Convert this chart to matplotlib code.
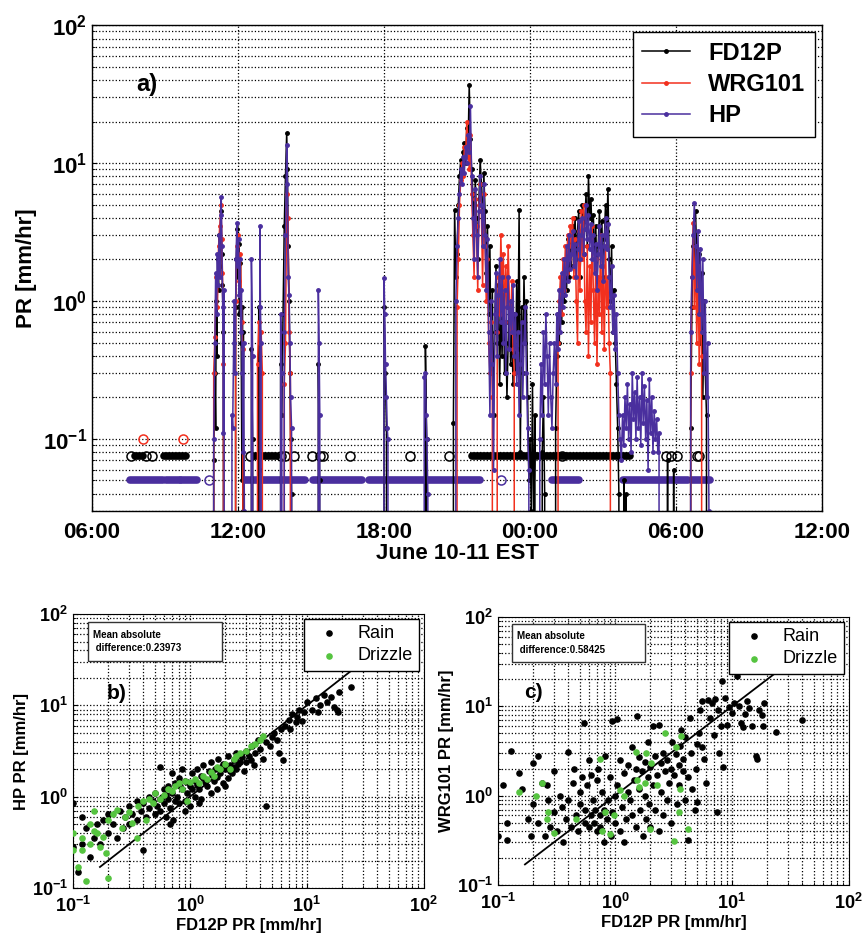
import matplotlib
matplotlib.use("Agg")
import matplotlib.pyplot as plt
from matplotlib.patches import Rectangle
import numpy as np

plt.rcParams['font.family'] = ['Liberation Sans', 'DejaVu Sans']
plt.rcParams['font.weight'] = 'bold'
plt.rcParams['mathtext.fontset'] = 'custom'
plt.rcParams['mathtext.rm'] = 'Liberation Sans:bold'
plt.rcParams['mathtext.bf'] = 'Liberation Sans:bold'
plt.rcParams['mathtext.it'] = 'Liberation Sans:bold'
plt.rcParams['mathtext.default'] = 'bf'

# ---- panel a: time series (hours from 00:00 June 10, value in mm/hr; 0 = no rain) ----
fd12p = [(10.95,0),(11.0,0.07),(11.05,0.3),(11.08,0.12),(11.1,1.0),(11.13,0.4),(11.16,2.0),(11.2,1.2),(11.23,3.0),(11.26,1.8),(11.3,4.5),(11.33,2.2),(11.36,1.3),(11.4,0.6),(11.45,0),
         (11.85,0),(11.9,0.9),(11.93,2.0),(11.96,3.3),(12.0,1.5),(12.03,2.6),(12.06,0.8),(12.1,1.9),(12.13,0.5),(12.16,0.05),(12.18,0.9),(12.2,0.03),(12.22,0.6),(12.25,0),
         (12.5,0),(12.55,0.45),(12.6,0.1),(12.65,0),(12.8,0),(12.85,0.9),(12.9,0.06),(12.95,0),
         (13.7,0),(13.75,0.35),(13.8,0.15),(13.85,0.8),(13.9,3.5),(13.95,8.0),(14.0,16.6),(14.03,9.0),(14.06,2.5),(14.1,1.0),(14.13,0.3),(14.16,0.1),(14.2,0.04),(14.25,0),
         (15.25,0),(15.3,0.35),(15.35,0.05),(15.4,0),
         (17.95,0),(18.0,0.9),(18.05,0.3),(18.1,0.12),(18.15,0),
         (19.6,0),(19.7,0.47),(19.75,0.1),(19.8,0),
         (20.8,0),(20.85,0.13),(20.9,4.6),(20.95,1.5),
         (21.0,2.2),(21.05,5.0),(21.1,8.0),(21.15,10.5),(21.2,9.0),(21.25,12.0),(21.3,14.0),(21.35,10.0),(21.4,18.0),(21.45,12.5),(21.5,37.0),(21.55,15.0),(21.6,9.0),(21.65,6.0),(21.7,3.5),(21.75,7.5),(21.8,4.0),(21.85,2.0),(21.9,5.5),(21.95,10.5),(22.0,7.0),(22.05,3.0),(22.1,8.5),(22.15,4.5),(22.2,1.6),(22.25,3.5),(22.3,0.8),(22.35,2.5),(22.4,0.3),(22.45,1.2),(22.5,0.15),(22.55,0.6),(22.6,1.8),(22.65,0.5),(22.7,1.3),(22.75,0.25),(22.8,0.9),(22.85,0.4),(22.9,1.5),(22.95,0.3),(23.0,0.7),(23.05,0.2),(23.1,0.5),(23.15,1.0),(23.2,0.35),(23.25,0.6),(23.3,0.25),(23.35,0.8),(23.4,0.3),(23.45,1.4),(23.5,0.45),(23.55,4.6),(23.6,0.08),(23.65,0.9),(23.7,0.3),(23.75,1.5),(23.8,0.5),(23.85,1.0),(23.9,0.2),(23.95,0.05),(24.0,0.1),(24.05,0.03),(24.1,0.25),(24.15,0.02),(24.2,0.15),(24.3,0),
         (24.45,0),(24.5,0.08),(24.55,0.2),(24.6,0.04),(24.65,0),
         (25.0,0),(25.05,0.12),(25.1,0.4),(25.15,0.8),(25.2,0.5),(25.25,1.2),(25.3,0.7),(25.35,1.6),(25.4,1.0),(25.45,2.0),(25.5,1.2),(25.55,2.8),(25.6,1.5),(25.65,3.0),(25.7,1.8),(25.75,3.5),(25.8,2.5),(25.85,4.0),(25.9,2.0),(25.95,3.2),(26.0,4.5),(26.05,1.5),(26.1,3.0),(26.15,5.0),(26.2,2.2),(26.25,3.8),(26.3,6.0),(26.35,2.5),(26.4,8.0),(26.45,4.0),(26.5,5.5),(26.55,3.0),(26.6,4.2),(26.65,2.0),(26.7,3.5),(26.75,1.4),(26.8,2.5),(26.85,4.5),(26.9,2.2),(26.95,3.8),(27.0,1.5),(27.05,2.8),(27.1,5.0),(27.15,3.2),(27.2,6.5),(27.25,2.0),(27.3,1.0),(27.35,2.5),(27.4,0.6),(27.45,1.2),(27.5,0.5),(27.55,0.25),(27.6,0.12),(27.65,0.04),(27.7,0),
         (27.8,0),(27.85,0.05),(27.9,0),(27.95,0.04),(28.0,0),
         (29.6,0),(29.65,0.07),(29.7,0),(29.85,0),(29.9,0.06),(29.95,0),
         (30.55,0),(30.6,0.12),(30.65,0.9),(30.7,2.5),(30.75,1.5),(30.8,4.5),(30.85,2.0),(30.9,0.8),(30.95,2.2),(31.0,0.5),(31.05,1.6),(31.1,0.2),(31.15,1.0),(31.2,0.3),(31.25,0.15),(31.3,0)]

wrg101 = [(10.95,0),(11.0,0.3),(11.05,0.55),(11.1,1.5),(11.15,0.9),(11.2,2.5),(11.25,3.5),(11.3,5.0),(11.33,2.8),(11.36,1.6),(11.4,0.35),(11.45,0),
          (11.85,0),(11.9,1.0),(11.95,2.5),(12.0,3.0),(12.05,1.4),(12.1,2.2),(12.15,0.7),(12.2,0.45),(12.25,0),
          (12.75,0),(12.8,0.35),(12.85,0.7),(12.9,0.5),(12.95,0.6),(13.0,0.3),(13.05,0),
          (13.85,0),(13.9,0.25),(13.95,0.5),(14.0,6.0),(14.05,4.0),(14.1,0.6),(14.15,0.3),(14.2,0),
          (20.95,0),(21.0,0.9),(21.05,2.0),(21.1,5.0),(21.15,7.5),(21.2,10.0),(21.25,8.0),(21.3,13.0),(21.35,11.0),(21.4,20.0),(21.45,14.0),(21.5,9.0),(21.55,16.0),(21.6,6.0),(21.65,3.0),(21.7,1.5),(21.75,5.5),(21.8,3.5),(21.85,1.2),(21.9,5.0),(21.95,7.0),(22.0,4.5),(22.05,1.3),(22.1,6.0),(22.15,2.5),(22.2,1.0),(22.25,2.0),(22.3,0.5),(22.35,0.3),(22.4,0.7),(22.45,0.2),(22.5,0),
          (22.6,0),(22.65,0.6),(22.7,1.5),(22.75,0.8),(22.8,3.0),(22.85,1.2),(22.9,2.2),(22.95,0.7),(23.0,1.8),(23.05,0.9),(23.1,2.5),(23.15,1.0),(23.2,0.6),(23.25,1.4),(23.3,0.45),(23.35,0.3),(23.4,0),
          (25.1,0),(25.15,0.5),(25.2,1.0),(25.25,1.5),(25.3,0.8),(25.35,2.0),(25.4,1.2),(25.45,2.5),(25.5,1.6),(25.55,3.0),(25.6,2.0),(25.65,3.5),(25.7,2.5),(25.75,4.0),(25.8,1.5),(25.85,2.8),(25.9,1.0),(25.95,0.5),(26.0,3.2),(26.05,1.2),(26.1,4.5),(26.15,2.0),(26.2,5.0),(26.25,1.0),(26.3,0.6),(26.35,2.5),(26.4,0.4),(26.45,1.8),(26.5,0.7),(26.55,3.5),(26.6,1.2),(26.65,0.5),(26.7,2.0),(26.75,0.35),(26.8,1.5),(26.85,0.8),(26.9,3.0),(26.95,0.6),(27.0,1.8),(27.05,0.45),(27.1,2.5),(27.15,0.9),(27.2,1.5),(27.25,0.5),(27.3,0.3),(27.35,0),
          (30.55,0),(30.6,0.3),(30.65,1.5),(30.7,3.7),(30.75,0.9),(30.8,2.5),(30.85,0.5),(30.9,1.8),(30.95,0.35),(31.0,1.2),(31.05,0.4),(31.1,0)]

hp = [(10.95,0),(11.0,0.1),(11.05,0.5),(11.08,1.6),(11.12,0.8),(11.15,2.2),(11.18,1.3),(11.22,3.0),(11.25,1.5),(11.28,4.2),(11.31,5.7),(11.34,2.5),(11.37,0.9),(11.4,0.11),(11.43,1.2),(11.45,0),
      (11.7,0),(11.75,0.15),(11.78,0.12),(11.82,0.5),(11.85,1.0),(11.88,0.3),(11.92,2.0),(11.95,3.7),(11.98,1.8),(12.02,2.8),(12.05,1.1),(12.08,2.0),(12.11,0.6),(12.14,1.2),(12.17,0.3),(12.2,0.08),(12.23,0.5),(12.26,0.03),(12.3,0),
      (12.5,0),(12.55,2.0),(12.6,0.4),(12.65,0),(12.85,0),(12.9,3.5),(12.92,0.9),(12.95,0.5),(12.98,0),
      (13.7,0),(13.75,0.8),(13.8,0.3),(13.85,0),(13.9,0.6),(13.95,3.0),(14.0,13.5),(14.03,7.0),(14.06,1.5),(14.1,1.1),(14.13,0.5),(14.16,0.2),(14.2,0.12),(14.25,0),
      (15.25,0),(15.3,1.2),(15.33,0.5),(15.36,0.15),(15.4,0),
      (17.95,0),(18.0,1.46),(18.03,0.8),(18.06,0.35),(18.1,0.2),(18.13,0.12),(18.16,0.1),(18.2,0),
      (19.6,0),(19.65,0.28),(19.7,0.3),(19.73,0.15),(19.76,0.1),(19.8,0.04),(19.85,0),
      (20.9,0),(20.95,1.0),(21.0,2.5),(21.05,4.0),(21.1,6.0),(21.15,9.0),(21.2,7.0),(21.25,11.0),(21.3,8.5),(21.35,13.0),(21.4,10.0),(21.45,16.0),(21.5,12.0),(21.55,26.0),(21.6,8.0),(21.65,4.0),(21.7,2.0),(21.75,6.5),(21.8,3.0),(21.85,1.5),(21.9,4.5),(21.95,8.0),(22.0,5.0),(22.05,2.5),(22.1,7.0),(22.15,3.0),(22.2,1.2),(22.25,2.8),(22.3,0.6),(22.35,0.15),(22.4,1.0),(22.45,0.35),(22.5,0.06),(22.55,0.8),(22.6,1.6),(22.65,0.4),(22.7,1.1),(22.75,2.0),(22.8,0.7),(22.85,1.5),(22.9,0.5),(22.95,1.2),(23.0,0.3),(23.05,0.9),(23.1,1.5),(23.15,0.45),(23.2,1.0),(23.25,0.6),(23.3,1.3),(23.35,0.4),(23.4,0.8),(23.45,0.25),(23.5,0.6),(23.55,0.15),(23.6,0.35),(23.65,0.7),(23.7,0.2),(23.75,0.5),(23.8,0.9),(23.85,0.3),(23.9,0.12),(23.95,0.06),(24.0,0),
      (24.35,0),(24.4,0.1),(24.45,0.35),(24.5,0.15),(24.55,0.6),(24.6,0.25),(24.65,0.8),(24.7,0.4),(24.75,0.15),(24.8,0.5),(24.85,0.2),(24.9,0.12),(24.95,0.3),(25.0,0.5),(25.05,0.25),(25.1,0.8),(25.15,0.45),(25.2,1.2),(25.25,0.6),(25.3,1.6),(25.35,0.9),(25.4,2.0),(25.45,1.1),(25.5,2.5),(25.55,1.4),(25.6,3.0),(25.65,1.7),(25.7,2.2),(25.75,3.2),(25.8,1.8),(25.85,2.6),(25.9,1.5),(25.95,2.4),(26.0,3.8),(26.05,2.0),(26.1,3.0),(26.15,4.0),(26.2,2.2),(26.25,3.3),(26.3,5.0),(26.35,2.8),(26.4,4.2),(26.45,2.4),(26.5,3.6),(26.55,2.0),(26.6,3.0),(26.65,1.6),(26.7,2.6),(26.75,1.2),(26.8,2.2),(26.85,3.5),(26.9,1.8),(26.95,3.0),(27.0,1.4),(27.05,2.5),(27.1,4.0),(27.15,2.4),(27.2,3.6),(27.25,1.5),(27.3,0.9),(27.35,1.8),(27.4,0.6),(27.45,1.1),(27.5,0.45),(27.55,0.8),(27.6,0.3),(27.65,0.15),(27.7,0.1),
      (27.75,0.07),(27.8,0.15),(27.85,0.09),(27.9,0.2),(27.95,0.12),(28.0,0.25),(28.05,0.1),(28.1,0.18),(28.15,0.08),(28.2,0.3),(28.25,0.14),(28.3,0.22),(28.35,0.1),(28.4,0.28),(28.45,0.12),(28.5,0.2),(28.55,0.09),(28.6,0.3),(28.65,0.13),(28.7,0.24),(28.75,0.1),(28.8,0.19),(28.85,0.06),(28.9,0.27),(28.95,0.11),(29.0,0.2),(29.05,0.08),(29.1,0.16),(29.15,0.1),(29.2,0.14),(29.25,0.08),(29.3,0.11),(29.35,0),
      (30.55,0),(30.6,0.6),(30.65,1.5),(30.7,3.0),(30.75,5.1),(30.8,2.5),(30.85,1.2),(30.9,3.2),(30.95,0.8),(31.0,2.4),(31.05,0.6),(31.1,2.0),(31.15,0.3),(31.2,1.0),(31.25,0.2),(31.3,0.5),(31.35,0.03),(31.4,0)]

# no-rain flags (drawn as rows of open circles)
fd_flag_level, hp_flag_level, wrg_flag_level = 0.075, 0.05, 0.1
fd_flag_spans = [(7.75, 8.1), (8.95, 9.85), (12.7, 13.6), (21.6, 28.1)]
fd_flag_single = [7.6, 8.2, 8.45, 12.5, 13.75, 13.95, 14.3, 15.05, 15.35, 15.5, 16.6, 19.05, 20.65, 25.3, 29.6, 29.8, 30.05, 30.85, 30.95]
hp_flag_spans = [(7.55, 8.9), (9.05, 9.6), (9.65, 10.3), (12.3, 14.75), (15.1, 17.1), (17.4, 21.95), (24.9, 26.0), (27.8, 30.5), (30.65, 31.4)]
hp_flag_single = [10.8, 22.8]
wrg_flag_single = [8.1, 9.75]

time_ticks = [6, 12, 18, 24, 30, 36]
time_labels = ['06:00', '12:00', '18:00', '00:00', '06:00', '12:00']

# ---- panel b/c: scatter (FD12P, other) ----
b_rain = [(0.1,0.28),(0.1,0.85),(0.11,0.15),(0.12,0.6),(0.12,0.3),(0.13,0.45),(0.14,0.22),(0.15,0.35),(0.16,0.5),(0.17,0.3),(0.18,0.55),(0.2,0.4),(0.2,0.65),(0.22,0.5),(0.24,0.35),(0.25,0.7),(0.27,0.45),(0.28,0.6),(0.3,0.5),(0.3,0.8),(0.32,0.65),(0.35,0.9),(0.35,0.55),(0.38,0.7),(0.4,0.26),(0.4,0.85),(0.42,0.6),(0.45,0.75),(0.45,1.0),(0.48,0.9),(0.5,0.65),(0.5,1.1),(0.52,0.8),(0.55,2.1),(0.55,0.7),(0.58,1.0),(0.6,0.85),(0.6,1.2),(0.62,0.6),(0.65,0.95),(0.65,1.3),(0.68,0.75),(0.7,1.1),(0.7,1.8),(0.72,0.55),(0.75,1.4),(0.78,1.0),(0.8,0.85),(0.8,1.6),(0.85,1.2),(0.85,2.0),(0.9,0.9),(0.9,1.5),(0.95,1.1),(1.0,1.3),(1.0,0.8),(1.05,1.8),(1.1,1.0),(1.1,1.5),(1.15,2.0),(1.2,1.2),(1.25,0.95),(1.3,1.6),(1.3,2.2),(1.4,1.3),(1.45,1.9),(1.5,1.1),(1.5,2.4),(1.6,1.5),(1.65,2.0),(1.7,1.2),(1.75,2.6),(1.8,1.8),(1.9,1.4),(1.9,2.3),(2.0,2.0),(2.1,1.6),(2.1,2.8),(2.2,2.2),(2.3,1.8),(2.4,2.5),(2.5,3.0),(2.5,2.0),(2.6,2.3),(2.8,2.7),(2.9,1.9),(3.0,3.2),(3.0,2.4),(3.2,2.8),(3.4,3.6),(3.5,2.2),(3.6,3.0),(3.8,4.2),(4.0,3.3),(4.2,2.6),(4.5,0.8),(4.5,4.0),(4.8,3.6),(5.0,4.5),(5.2,5.0),(5.5,4.2),(5.8,3.0),(6.0,5.5),(6.3,2.5),(6.5,6.0),(7.0,7.0),(7.2,5.5),(7.5,8.0),(8.0,6.5),(8.2,7.5),(8.5,9.0),(9.0,6.8),(9.5,8.5),(10,11),(11,9),(12,12),(12.5,8.5),(13,10),(14,13),(15,11),(16,12.5),(17,9.5),(18,9),(18.5,8.5),(19,14),(24,16),
          (0.55,0.95),(0.62,1.05),(0.75,0.9),(0.82,1.3),(0.95,1.45),(1.05,1.2),(1.15,1.35),(1.25,1.7),(1.35,1.45),(1.55,1.75),(1.7,1.65),(1.85,2.1),(2.2,1.9),(2.4,2.1),(2.7,2.4),(3.3,2.5),(2.0,1.3),(1.2,0.85),(0.9,0.7),(0.68,0.5)]
b_drizzle = [(0.1,0.4),(0.1,0.26),(0.11,0.17),(0.12,0.35),(0.12,0.26),(0.13,0.12),(0.14,0.5),(0.14,0.3),(0.15,0.7),(0.15,0.42),(0.16,0.4),(0.17,0.28),(0.18,0.36),(0.19,0.24),(0.2,0.13),(0.2,0.55),(0.22,0.65),(0.24,0.72),(0.26,0.45),(0.28,0.6),(0.3,0.68),(0.32,0.52),(0.35,0.35),(0.36,0.8),(0.4,0.9),(0.42,0.55),(0.45,0.95),(0.48,0.85),(0.5,1.1),(0.55,0.95),(0.6,1.05),(0.65,1.2),(0.7,1.15),(0.75,1.3),(0.8,1.4),(0.85,1.2),(0.9,1.5),(0.95,0.9),(1.0,1.45),(1.1,1.55),(1.2,1.4),(1.3,1.7),(1.4,1.55),(1.5,1.85),(1.6,1.7),(1.7,2.1),(1.8,2.0),(2.0,2.3),(2.2,2.0),(2.4,2.6),(2.5,2.8),(2.7,3.0),(3.0,3.2),(3.3,3.6),(3.6,3.8),(4.0,4.2),(4.2,4.6)]

c_rain = [(0.1,0.35),(0.11,1.3),(0.12,0.5),(0.12,0.32),(0.13,3.2),(0.15,1.8),(0.16,1.2),(0.18,0.55),(0.19,0.35),(0.2,2.3),(0.2,0.8),(0.22,2.8),(0.22,0.5),(0.24,1.4),(0.25,0.35),(0.26,1.3),(0.27,0.9),(0.28,0.45),(0.3,0.65),(0.3,1.9),(0.32,0.4),(0.34,1.0),(0.35,0.75),(0.36,0.3),(0.38,0.55),(0.4,3.1),(0.4,0.9),(0.42,0.45),(0.44,1.4),(0.45,2.0),(0.46,0.6),(0.48,0.4),(0.5,1.1),(0.5,0.8),(0.52,1.6),(0.54,6.5),(0.55,0.5),(0.56,0.7),(0.58,1.3),(0.6,0.45),(0.6,2.5),(0.62,0.6),(0.63,1.7),(0.65,0.9),(0.66,0.5),(0.68,0.7),(0.7,1.5),(0.7,0.4),(0.72,2.0),(0.75,0.6),(0.75,0.45),(0.78,1.1),(0.8,0.3),(0.8,0.7),(0.82,2.8),(0.85,0.55),(0.88,0.9),(0.9,1.6),(0.92,0.35),(0.95,0.65),(0.95,6.8),(1.0,1.0),(1.0,0.5),(1.05,7.2),(1.05,1.3),(1.1,0.4),(1.1,2.5),(1.15,0.75),(1.2,1.8),(1.2,0.3),(1.25,0.55),(1.3,1.1),(1.3,2.2),(1.35,0.9),(1.4,3.5),(1.4,0.6),(1.45,1.5),(1.5,2.0),(1.5,0.45),(1.55,7.8),(1.6,1.2),(1.6,2.7),(1.65,0.7),(1.7,1.9),(1.75,0.35),(1.8,2.4),(1.8,1.0),(1.85,0.55),(1.9,4.0),(1.9,1.6),(1.95,0.8),(2.0,2.1),(2.0,0.45),(2.1,1.3),(2.1,6.0),(2.2,2.8),(2.2,0.7),(2.3,1.7),(2.4,6.2),(2.4,0.4),(2.5,2.3),(2.5,1.1),(2.6,3.0),(2.6,0.6),(2.7,1.9),(2.8,2.5),(2.8,0.9),(2.9,1.4),(3.0,2.0),(3.0,0.5),(3.1,4.0),(3.2,1.7),(3.3,2.9),(3.4,0.8),(3.5,2.2),(3.5,1.3),(3.6,3.6),(3.7,5.5),(3.8,1.9),(3.8,2.6),(4.0,0.9),(4.0,4.5),(4.2,1.6),(4.2,0.32),(4.4,7.5),(4.5,3.0),(4.6,1.2),(4.8,0.7),(4.9,2.0),(5.0,3.8),(5.0,0.85),(5.2,5.0),(5.3,9.0),(5.5,11.5),(5.6,3.5),(5.8,2.6),(6.0,1.4),(6.2,11.8),(6.5,7.5),(6.8,11.0),(7.0,4.8),(7.2,12.0),(7.5,0.65),(7.6,9.0),(7.8,3.0),(8.0,6.0),(8.2,19),(8.4,2.1),(8.8,12.5),(9.0,6.2),(9.5,9.8),(10.0,8.5),(10.5,11.0),(11.0,22),(11.5,10.0),(12.0,6.5),(12.5,5.8),(13.0,8.3),(13.5,11.5),(14,9.5),(15,6.0),(16,2.8),(16.5,2.6),(17,9.0),(18,8.0),(18.5,6.0),(19,11),(24,5.2),(40,7.0)]
c_drizzle = [(0.15,1.1),(0.21,1.0),(0.24,1.4),(0.26,0.55),(0.27,0.65),(0.3,0.38),(0.46,0.55),(0.75,2.6),(0.77,0.4),(0.82,0.65),(0.9,0.37),(0.98,0.6),(1.1,1.15),(1.2,1.0),(1.5,3.1),(1.55,1.5),(1.6,1.25),(1.8,1.4),(1.85,3.0),(2.0,0.42),(2.05,2.3),(2.3,1.3),(2.7,5.0),(3.2,0.31),(3.3,3.5),(3.5,0.65),(3.6,1.2),(3.7,4.7),(4.2,0.42)]

one_to_one = [0.17, 25]
mad_b, mad_c = 0.23973, 0.58425

BLACK, RED, PURPLE, GREEN = '#000000', '#f2301e', '#4a2f9e', '#55c43f'


def grid_style(ax, minor_x=True):
    ax.grid(True, which='major', axis='both', ls=':', color='black', lw=0.9)
    ax.grid(True, which='minor', axis='y', ls=':', color='black', lw=0.9)
    if minor_x:
        ax.grid(True, which='minor', axis='x', ls=':', color='black', lw=0.9)
    ax.set_axisbelow(True)


fig = plt.figure(figsize=(8.64, 9.38), dpi=100)

# ---------------- panel a ----------------
ax = fig.add_axes([0.1065, 0.4552, 0.845, 0.518])
ax.set_yscale('log')
for data, col, name in [(fd12p, BLACK, 'FD12P'), (wrg101, RED, 'WRG101'), (hp, PURPLE, 'HP')]:
    t = np.array([p[0] for p in data])
    v = np.array([p[1] for p in data])
    ax.plot(t, v, '-', marker='.', color=col, lw=1.1, ms=5, label=name)

for a, b in fd_flag_spans:
    ax.plot([a, b], [fd_flag_level] * 2, color=BLACK, lw=5.5, solid_capstyle='round', zorder=1.8)
ax.plot(fd_flag_single, [fd_flag_level] * len(fd_flag_single), 'o', mfc='none', mec=BLACK, ms=6.5, mew=1.1, zorder=1.8)
for a, b in hp_flag_spans:
    ax.plot([a, b], [hp_flag_level] * 2, color=PURPLE, lw=5.5, solid_capstyle='round', zorder=1.8)
ax.plot(hp_flag_single, [hp_flag_level] * len(hp_flag_single), 'o', mfc='none', mec=PURPLE, ms=6.5, mew=1.1, zorder=1.8)
ax.plot(wrg_flag_single, [wrg_flag_level] * len(wrg_flag_single), 'o', mfc='none', mec=RED, ms=6.5, mew=1.1, zorder=1.8)

ax.set_xlim(6, 36)
ax.set_ylim(0.03, 100)
ax.set_xticks(time_ticks)
ax.set_xticklabels(time_labels)
ax.tick_params(labelsize=16, direction='in', which='both')
ax.tick_params(axis='x', pad=8)
grid_style(ax, minor_x=False)
ax.set_xlabel('June 10-11 EST', fontsize=16, fontweight='bold', labelpad=0)
ax.set_ylabel('PR [mm/hr]', fontsize=16, fontweight='bold')
ax.text(0.075, 0.877, 'a)', transform=ax.transAxes, fontsize=17, fontweight='bold', ha='center', va='center')
leg = ax.legend(loc='upper right', fontsize=17, handlelength=2.0, fancybox=False, edgecolor='black',
                framealpha=1, borderaxespad=0.3, labelspacing=0.35, borderpad=0.4)
leg.get_frame().set_linewidth(1.0)
for s in ax.spines.values():
    s.set_linewidth(1.0)


# ---------------- panels b, c ----------------
def scatter_panel(pos, rain, drizzle, ylabel, letter, mad, box, letter_xy):
    ax = fig.add_axes(pos)
    ax.set_xscale('log')
    ax.set_yscale('log')
    ax.scatter([p[0] for p in rain], [p[1] for p in rain], s=14, color=BLACK, label='Rain', zorder=3)
    ax.scatter([p[0] for p in drizzle], [p[1] for p in drizzle], s=14, color=GREEN, label='Drizzle', zorder=3)
    ax.plot(one_to_one, one_to_one, color=BLACK, lw=1.3, zorder=2.5)
    ax.set_xlim(0.1, 100)
    ax.set_ylim(0.1, 100)
    grid_style(ax)
    ax.tick_params(labelsize=13, direction='in', which='both')
    ax.tick_params(axis='x', pad=6)
    ax.set_xlabel('FD12P PR [mm/hr]', fontsize=12, fontweight='bold', labelpad=1)
    ax.set_ylabel(ylabel, fontsize=12, fontweight='bold', labelpad=2)
    ax.add_patch(Rectangle((box[0], box[1]), box[2], box[3], transform=ax.transAxes,
                           fc='white', ec='#333333', lw=1.0, zorder=4))
    ax.text(box[0] + 0.015, box[1] + box[3] / 2, 'Mean absolute\n difference:%s' % mad, transform=ax.transAxes,
            fontsize=7, fontweight='bold', va='center', ha='left', zorder=5, linespacing=1.4)
    ax.text(letter_xy[0], letter_xy[1], letter, transform=ax.transAxes, fontsize=15, fontweight='bold',
            ha='center', va='center')
    leg = ax.legend(loc='upper right', fontsize=13, fancybox=False, edgecolor='black', framealpha=1,
                    borderaxespad=0.25, handletextpad=0.6, borderpad=0.35, labelspacing=0.3, markerscale=1.0)
    leg.get_frame().set_linewidth(1.0)
    for t in leg.get_texts():
        t.set_fontweight('normal')
    return ax


scatter_panel([0.0845, 0.0533, 0.406, 0.292], b_rain, b_drizzle, 'HP PR [mm/hr]', 'b)', mad_b,
              (0.043, 0.83, 0.381, 0.14), (0.125, 0.71))
scatter_panel([0.5764, 0.0565, 0.406, 0.2857], c_rain, c_drizzle, 'WRG101 PR [mm/hr]', 'c)', mad_c,
              (0.04, 0.832, 0.38, 0.142), (0.10, 0.72))

fig.savefig('out.png', dpi=100)
